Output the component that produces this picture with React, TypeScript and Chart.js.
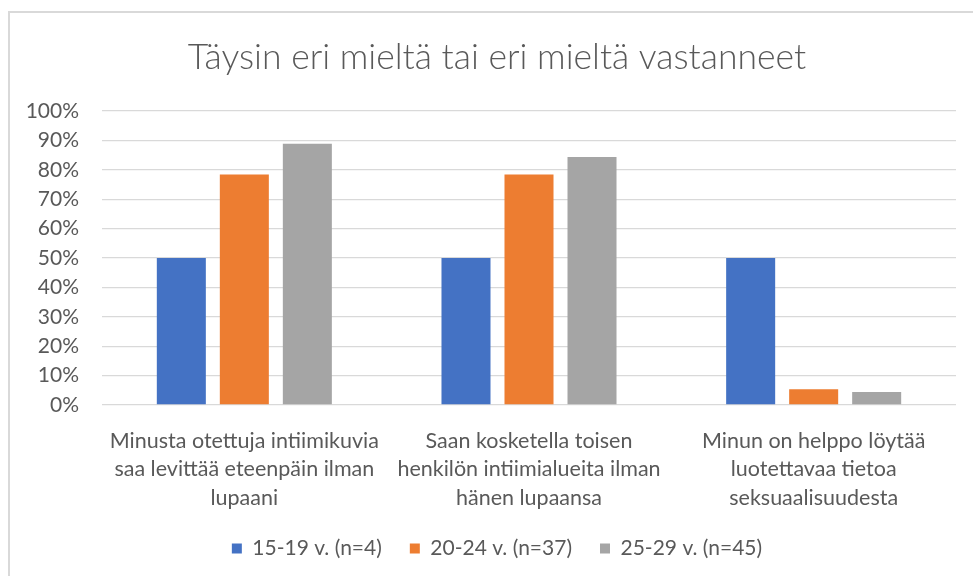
import React, { useEffect, useRef } from "react";
import { Chart, registerables } from "chart.js";

Chart.register(...registerables);

const categories: string[][] = [
  ["Minusta otettuja intiimikuvia", "saa levittää eteenpäin ilman", "lupaani"],
  ["Saan kosketella toisen", "henkilön intiimialueita ilman", "hänen lupaansa"],
  ["Minun on helppo löytää", "luotettavaa tietoa", "seksuaalisuudesta"],
];
const seriesNames = ["15-19 v. (n=4)", "20-24 v. (n=37)", "25-29 v. (n=45)"];
const series1 = [50, 50, 50];
const series2 = [78.4, 78.4, 5.4];
const series3 = [88.9, 84.4, 4.4];
const colors = ["#4472C4", "#ED7D31", "#A5A5A5"];
const titleText = "Täysin eri mieltä tai eri mieltä vastanneet";

export default function App() {
  const ref = useRef<HTMLCanvasElement | null>(null);
  useEffect(() => {
    document.body.style.margin = "0";
    const ctx = ref.current!;
    const font = "Lato";
    const chart = new Chart(ctx, {
      type: "bar",
      data: {
        labels: categories,
        datasets: [series1, series2, series3].map((d, i) => ({
          label: seriesNames[i],
          data: d,
          backgroundColor: colors[i],
          borderWidth: 0,
          categoryPercentage: 0.664,
          barPercentage: 0.778,
        })),
      },
      options: {
        animation: false,
        responsive: false,
        maintainAspectRatio: false,
        layout: { padding: { top: 36, right: 0, bottom: 7, left: 0 } },
        plugins: {
          title: {
            display: true,
            text: titleText,
            color: "#595959",
            font: { family: font, size: 35.5, weight: "300" as any, lineHeight: 1.2 },
            padding: { top: 0, bottom: 32.5 },
          },
          legend: {
            position: "bottom",
            labels: {
              color: "#595959",
              font: { family: font, size: 21 },
              boxWidth: 10,
              boxHeight: 10,
              padding: 28,
            },
          },
          tooltip: { enabled: false },
        },
        scales: {
          x: {
            grid: { display: false },
            border: { display: false },
            ticks: {
              color: "#595959",
              font: { family: font, size: 21.5, lineHeight: 1.33 },
              padding: 13.5,
              maxRotation: 0,
              autoSkip: false,
            },
            afterFit: (s: any) => {
              s.height = 105;
            },
          },
          y: {
            min: 0,
            max: 100,
            grid: { color: "#d9d9d9", lineWidth: 1.3, drawTicks: false },
            border: { display: false },
            ticks: {
              stepSize: 10,
              color: "#595959",
              font: { family: font, size: 21 },
              padding: 23,
              callback: (v: any) => v + "%",
            },
            afterFit: (s: any) => {
              s.width = 94;
            },
          },
          yRightSpace: {
            position: "right",
            display: true,
            grid: { display: false },
            border: { display: false },
            ticks: { display: false },
            afterFit: (s: any) => {
              s.width = 30;
            },
          },
        },
      },
    });
    return () => chart.destroy();
  }, []);
  return (
    <div style={{ position: "relative", width: 973, height: 576, overflow: "hidden", background: "#fff" }}>
      <canvas ref={ref} width={978} height={576} style={{ position: "absolute", left: 8, top: 0, width: 978, height: 576 }} />
      <div
        style={{
          position: "absolute",
          left: 8,
          top: 11,
          width: 1000,
          height: 600,
          borderLeft: "2px solid #d9d9d9",
          borderTop: "2px solid #d9d9d9",
          pointerEvents: "none",
        }}
      />
    </div>
  );
}
